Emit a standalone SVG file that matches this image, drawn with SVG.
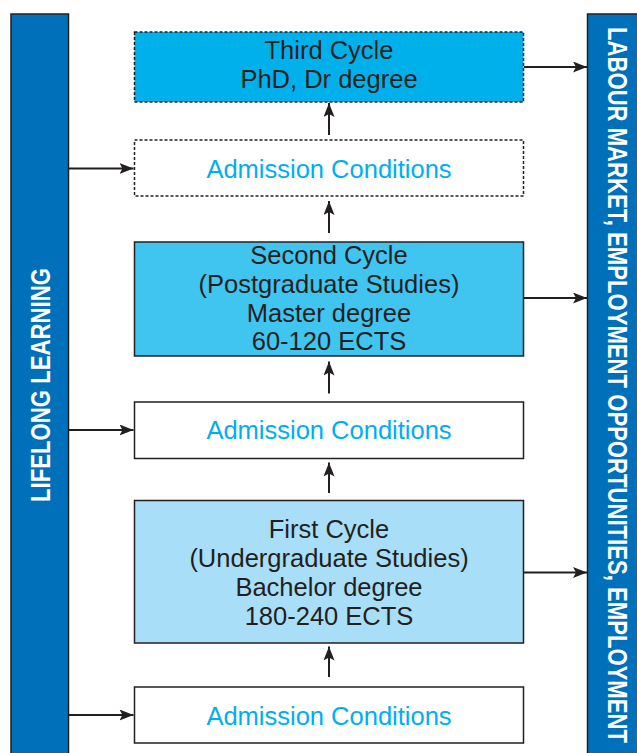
<svg xmlns="http://www.w3.org/2000/svg" width="637" height="753" viewBox="0 0 637 753">
  <style>
    .bar { fill: #0070BA; stroke: #231F20; stroke-width: 1.5; }
    .bar-label { font-family: "Liberation Sans", Arial, sans-serif; font-weight: bold; font-size: 27px; fill: #FFFFFF; text-anchor: middle; }
    .box { stroke: #231F20; stroke-width: 1.5; }
    .dashed { stroke-dasharray: 3 2; }
    .cycle-text { font-family: "Liberation Sans", Arial, sans-serif; font-size: 25.5px; fill: #231F20; text-anchor: middle; }
    .adm-text { font-family: "Liberation Sans", Arial, sans-serif; font-size: 25.5px; fill: #00AEEF; text-anchor: middle; }
    .conn { stroke: #231F20; stroke-width: 2; fill: none; marker-end: url(#head); }
  </style>
  <defs>
    <marker id="head" markerUnits="userSpaceOnUse" markerWidth="15" markerHeight="12" refX="14" refY="5.5" orient="auto">
      <path d="M0,0 L14,5.5 L0,11 L3,5.5 Z" fill="#231F20"/>
    </marker>
  </defs>

  <rect width="637" height="753" fill="#FFFFFF"/>

  <!-- side bars -->
  <g id="lifelong-learning">
    <rect class="bar" x="11" y="14" width="57.5" height="750"/>
    <text class="bar-label" transform="translate(49.5,385) rotate(-90)" textLength="234" lengthAdjust="spacingAndGlyphs">LIFELONG LEARNING</text>
  </g>
  <g id="labour-market">
    <rect class="bar" x="587.5" y="14" width="60" height="750"/>
    <text class="bar-label" transform="translate(607.5,385) rotate(90)" textLength="716" lengthAdjust="spacingAndGlyphs">LABOUR MARKET, EMPLOYMENT OPPORTUNITIES, EMPLOYMENT</text>
  </g>

  <!-- cycles and admission steps -->
  <g id="third-cycle">
    <rect class="box dashed" x="134.5" y="32" width="389" height="70" fill="#00B0EA"/>
    <text class="cycle-text" x="329" y="58.5">Third Cycle</text>
    <text class="cycle-text" x="329" y="88">PhD, Dr degree</text>
  </g>
  <g id="admission-3">
    <rect class="box dashed" x="134.5" y="140" width="389" height="56" fill="#FFFFFF"/>
    <text class="adm-text" x="329" y="177.5">Admission Conditions</text>
  </g>
  <g id="second-cycle">
    <rect class="box" x="134.5" y="242" width="389" height="114" fill="#40C4F0"/>
    <text class="cycle-text" x="329" y="264">Second Cycle</text>
    <text class="cycle-text" x="329" y="293">(Postgraduate Studies)</text>
    <text class="cycle-text" x="329" y="321.5">Master degree</text>
    <text class="cycle-text" x="329" y="350">60-120 ECTS</text>
  </g>
  <g id="admission-2">
    <rect class="box" x="134.5" y="402" width="389" height="56.5" fill="#FFFFFF"/>
    <text class="adm-text" x="329" y="438.5">Admission Conditions</text>
  </g>
  <g id="first-cycle">
    <rect class="box" x="134.5" y="500.5" width="389" height="142.5" fill="#A8DEF8"/>
    <text class="cycle-text" x="329" y="537.5">First Cycle</text>
    <text class="cycle-text" x="329" y="566.5">(Undergraduate Studies)</text>
    <text class="cycle-text" x="329" y="595.5">Bachelor degree</text>
    <text class="cycle-text" x="329" y="624.5">180-240 ECTS</text>
  </g>
  <g id="admission-1">
    <rect class="box" x="134.5" y="687" width="389" height="56" fill="#FFFFFF"/>
    <text class="adm-text" x="329" y="724.5">Admission Conditions</text>
  </g>

  <!-- connectors -->
  <g id="connectors">
    <!-- lifelong learning into each admission step -->
    <line class="conn" x1="69" y1="168.5" x2="133.5" y2="168.5"/>
    <line class="conn" x1="69" y1="430" x2="133.5" y2="430"/>
    <line class="conn" x1="69" y1="715" x2="133.5" y2="715"/>
    <!-- cycles out to the labour market -->
    <line class="conn" x1="524" y1="67" x2="587" y2="67"/>
    <line class="conn" x1="524" y1="298" x2="587" y2="298"/>
    <line class="conn" x1="524" y1="572.5" x2="587" y2="572.5"/>
    <!-- upward progression -->
    <line class="conn" x1="329" y1="135" x2="329" y2="103"/>
    <line class="conn" x1="329" y1="233" x2="329" y2="201"/>
    <line class="conn" x1="329" y1="393.5" x2="329" y2="361.5"/>
    <line class="conn" x1="329" y1="493" x2="329" y2="462.5"/>
    <line class="conn" x1="329" y1="677" x2="329" y2="646.5"/>
  </g>
</svg>
